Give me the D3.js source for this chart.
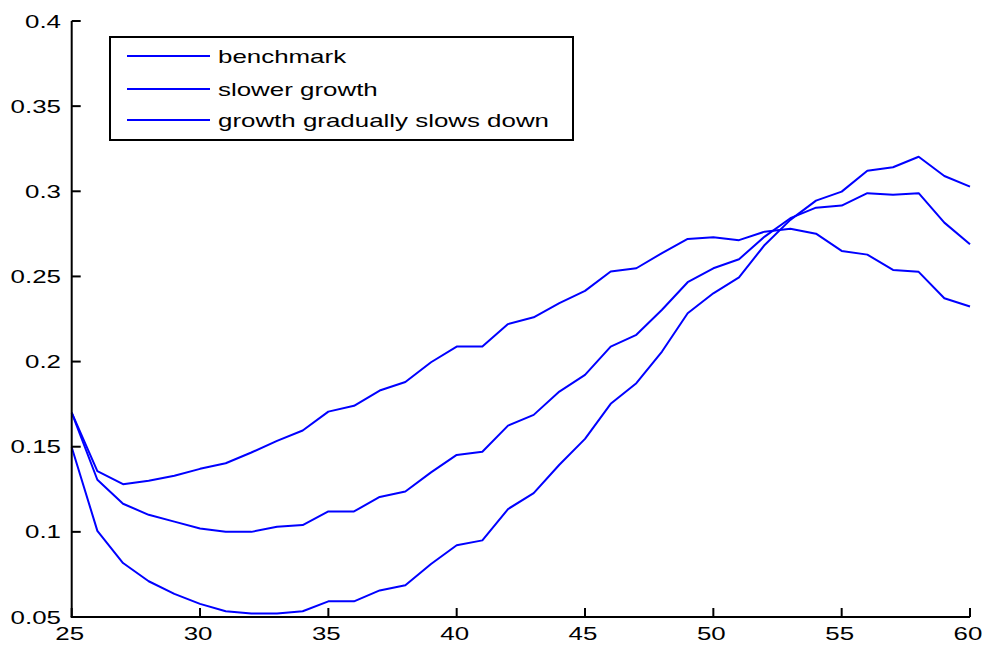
<!DOCTYPE html>
<html>
<head>
<meta charset="utf-8">
<script src="https://cdn.jsdelivr.net/npm/d3@7"></script>
<style>
  html, body { margin: 0; padding: 0; background: #fff; }
  svg { display: block; }
  text { font-family: "Liberation Sans", Arial, sans-serif; font-size: 18.5px; fill: #000; }
</style>
</head>
<body>
<svg id="chart" width="986" height="648"></svg>
<script>
// Ages on the horizontal axis
const ages = [25,26,27,28,29,30,31,32,33,34,35,36,37,38,39,40,41,42,43,44,45,46,47,48,49,50,51,52,53,54,55,56,57,58,59,60];

// Series values, one per age
const benchmark = [0.170,0.1306,0.1165,0.110,0.106,0.102,0.100,0.100,0.103,0.104,0.112,0.112,0.1205,0.1237,0.1349,0.1452,0.147,0.1624,0.1687,0.1824,0.1922,0.2088,0.2157,0.2304,0.2466,0.2548,0.2601,0.2734,0.2842,0.2904,0.2916,0.2989,0.2979,0.2989,0.2816,0.2689];
const slowerGrowth = [0.170,0.1357,0.128,0.130,0.133,0.137,0.1403,0.1466,0.1534,0.1595,0.1706,0.174,0.183,0.188,0.1996,0.2088,0.2088,0.222,0.226,0.2343,0.2415,0.2529,0.2548,0.2637,0.272,0.273,0.2713,0.2763,0.278,0.2751,0.265,0.2628,0.2538,0.2527,0.2372,0.2323];
const gradualSlowdown = [0.1497,0.1006,0.0817,0.071,0.0636,0.0577,0.0534,0.052,0.052,0.0534,0.0592,0.0592,0.0656,0.0686,0.0811,0.0921,0.095,0.1134,0.1227,0.1394,0.1546,0.1752,0.1873,0.2059,0.2284,0.2401,0.2495,0.2685,0.2832,0.2945,0.2998,0.3121,0.3141,0.3203,0.309,0.3027];

const seriesNames = ["benchmark", "slower growth", "growth gradually slows down"];
const seriesValues = [benchmark, slowerGrowth, gradualSlowdown];

const xTicks = [25,30,35,40,45,50,55,60];
const yTicks = [0.05,0.1,0.15,0.2,0.25,0.3,0.35,0.4];

const lineColor = "#0000ff";
const textStretch = 1.4; // wide glyph rendering

const svg = d3.select("#chart");
const x = d3.scaleLinear().domain([25, 60]).range([71.7, 970]);
const y = d3.scaleLinear().domain([0.05, 0.4]).range([617, 21]);

// Stretched text helper
function stretchedText(g, tx, ty, str, anchor) {
  return g.append("text")
    .attr("transform", `translate(${tx},${ty}) scale(${textStretch},1)`)
    .attr("text-anchor", anchor || "start")
    .text(str);
}

// Lines
const line = d3.line().x((d, i) => x(ages[i])).y(d => y(d));
svg.append("g").selectAll("path")
  .data(seriesValues)
  .join("path")
  .attr("d", d => line(d))
  .attr("fill", "none")
  .attr("stroke", lineColor)
  .attr("stroke-width", 2)
  .attr("stroke-linejoin", "round");

// Axes (ticks pointing inward)
const axisG = svg.append("g");
axisG.append("line")
  .attr("x1", x(25)).attr("x2", x(25)).attr("y1", y(0.4)).attr("y2", y(0.05))
  .attr("stroke", "#000").attr("stroke-width", 2);
axisG.append("line")
  .attr("x1", x(25) - 1).attr("x2", x(60)).attr("y1", y(0.05)).attr("y2", y(0.05))
  .attr("stroke", "#000").attr("stroke-width", 2);

yTicks.forEach(v => {
  axisG.append("line")
    .attr("x1", x(25)).attr("x2", x(25) + 9).attr("y1", y(v)).attr("y2", y(v))
    .attr("stroke", "#000").attr("stroke-width", 2);
  stretchedText(axisG, 61, y(v) + 6.5, d3.format("")(+v.toFixed(2)), "end");
});

xTicks.forEach(v => {
  axisG.append("line")
    .attr("x1", x(v)).attr("x2", x(v)).attr("y1", y(0.05)).attr("y2", y(0.05) - 9)
    .attr("stroke", "#000").attr("stroke-width", 2);
  stretchedText(axisG, x(v) - 2, 640, String(v), "middle");
});

// Legend
const lg = svg.append("g");
lg.append("rect")
  .attr("x", 110).attr("y", 37).attr("width", 463).attr("height", 103)
  .attr("fill", "#fff").attr("stroke", "#000").attr("stroke-width", 2);
const legendRows = [56, 89, 120];
seriesNames.forEach((name, i) => {
  lg.append("line")
    .attr("x1", 127).attr("x2", 210).attr("y1", legendRows[i]).attr("y2", legendRows[i])
    .attr("stroke", lineColor).attr("stroke-width", 2);
  stretchedText(lg, 218, legendRows[i] + 6.5, name, "start");
});
</script>
</body>
</html>
